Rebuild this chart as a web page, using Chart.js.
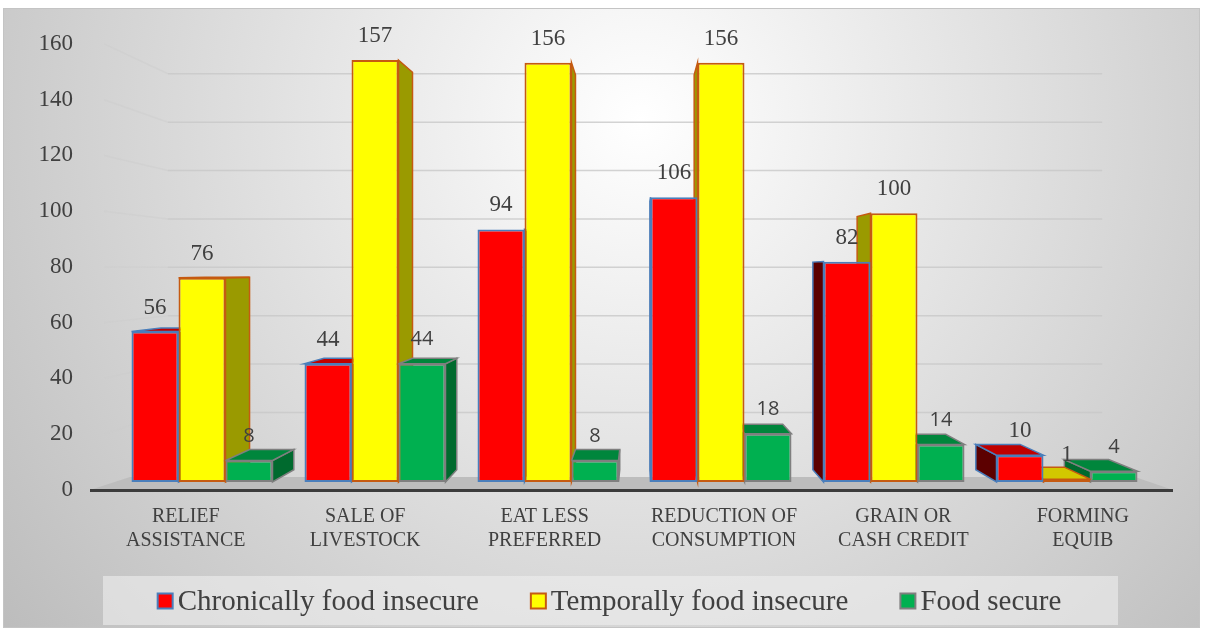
<html>
  <head>
    <script src="https://cdn.jsdelivr.net/npm/chart.js"></script>
    <meta charset="UTF-8" />
    <style>
      body { margin: 0; background: #fff; }
      #wrap { width: 1207px; height: 635px; }
    </style>
  </head>
  <body>
    <div id="wrap"><canvas id="myChart"></canvas></div>
    <script>
      const categories = [
        ["RELIEF", "ASSISTANCE"],
        ["SALE OF", "LIVESTOCK"],
        ["EAT LESS", "PREFERRED"],
        ["REDUCTION OF", "CONSUMPTION"],
        ["GRAIN OR", "CASH CREDIT"],
        ["FORMING", "EQUIB"],
      ];
      const seriesNames = [
        "Chronically food insecure",
        "Temporally food insecure",
        "Food secure",
      ];
      const chronic = [56, 44, 94, 106, 82, 10];
      const temporal = [76, 157, 156, 156, 100, 1];
      const secure = [8, 44, 8, 18, 14, 4];
      const yMax = 160;
      const yStep = 20;

      const serif = '"Liberation Serif", "Times New Roman", serif';
      const sans = '"Open Sans", "Liberation Sans", sans-serif';
      const textColor = "#404040";

      // front / top / side shades for the extruded bars
      const colors = [
        { front: "#ff0000", top: "#c00000", side: "#5c0000", border: "#4a7ebb" },
        { front: "#ffff00", top: "#d2c800", side: "#9a9a00", border: "#c55a11" },
        { front: "#00b050", top: "#00863c", side: "#006a2e", border: "#7f7f7f" },
      ];
      const labelFonts = [
        { family: serif, size: 23 },
        { family: serif, size: 23 },
        { family: sans, size: 20 },
      ];

      // fake perspective: everything recedes toward this point
      const vp = { x: 640, y: 270 };
      const barDepth = 0.058;
      const wallDepth = 0.1;
      const frontScale = 1.037; // axis labels sit on the front edge, a bit nearer than the bars
      const back = (x, y, f) => [x + f * (vp.x - x), y + f * (vp.y - y)];
      const toFront = (x, y) => [vp.x + (x - vp.x) * frontScale, vp.y + (y - vp.y) * frontScale];

      function poly(ctx, pts, fill, stroke) {
        ctx.beginPath();
        ctx.moveTo(pts[0][0], pts[0][1]);
        for (let i = 1; i < pts.length; i++) ctx.lineTo(pts[i][0], pts[i][1]);
        ctx.closePath();
        ctx.fillStyle = fill;
        ctx.fill();
        if (stroke) {
          ctx.strokeStyle = stroke;
          ctx.lineWidth = 1.5;
          ctx.stroke();
        }
      }

      const backdrop = {
        id: "backdrop",
        beforeDraw(chart) {
          const ctx = chart.ctx;
          ctx.save();
          ctx.fillStyle = "#fff";
          ctx.fillRect(0, 0, chart.width, chart.height);
          const g = ctx.createRadialGradient(640, 120, 0, 640, 120, 820);
          g.addColorStop(0, "#ffffff");
          g.addColorStop(1, "#bcbcbc");
          ctx.fillStyle = g;
          ctx.fillRect(3, 8, 1197, 620);
          ctx.strokeStyle = "#c4c4c4";
          ctx.lineWidth = 1;
          ctx.strokeRect(3.5, 8.5, 1196, 619);
          // legend panel
          ctx.fillStyle = "rgba(238,238,238,0.6)";
          ctx.fillRect(103, 576, 1015, 49);
          ctx.restore();
        },
      };

      const walls = {
        id: "walls",
        beforeDatasetsDraw(chart) {
          const ctx = chart.ctx;
          const area = chart.chartArea;
          const y = chart.scales.y;
          const x = chart.scales.x;
          ctx.save();

          // back wall + side wall grid
          ctx.lineWidth = 1.5;
          y.ticks.forEach(t => {
            if (t.value === 0) return;
            const py = y.getPixelForValue(t.value);
            const [fx, fy] = toFront(area.left, py);
            const [lx, ly] = back(area.left, py, wallDepth);
            const [rx, ry] = back(area.right, py, wallDepth);
            ctx.strokeStyle = "rgba(205,205,205,0.45)";
            ctx.beginPath();
            ctx.moveTo(fx + 8, fy);
            ctx.lineTo(lx, ly);
            ctx.stroke();
            ctx.strokeStyle = "rgba(200,200,200,0.8)";
            ctx.beginPath();
            ctx.moveTo(lx, ly);
            ctx.lineTo(rx, ry);
            ctx.stroke();
          });

          // value axis labels, projected onto the front edge
          ctx.fillStyle = textColor;
          ctx.font = `23px ${serif}`;
          ctx.textAlign = "right";
          ctx.textBaseline = "middle";
          y.ticks.forEach(t => {
            const [, ty] = toFront(area.left, y.getPixelForValue(t.value));
            ctx.fillText(String(t.value), 73, ty);
          });

          // category labels, same projection
          ctx.font = `20px ${serif}`;
          ctx.textAlign = "center";
          categories.forEach((lines, i) => {
            const [cx] = toFront(x.getPixelForValue(i), area.bottom);
            lines.forEach((line, j) => ctx.fillText(line, cx, 517 + j * 24));
          });

          // floor
          const fy = area.bottom + 8;
          poly(ctx, [[90, fy], [1173, fy], [1135, fy - 13], [130, fy - 13]], "#bdbdbd");
          ctx.fillStyle = "#3c3c3c";
          ctx.fillRect(90, fy - 1, 1083, 3);

          // side and top faces, farthest from the vanishing point first
          const bars = [];
          chart.data.datasets.forEach((ds, di) => {
            chart.getDatasetMeta(di).data.forEach(el => {
              bars.push({ el, c: colors[di] });
            });
          });
          bars.sort((a, b) => Math.abs(b.el.x - vp.x) - Math.abs(a.el.x - vp.x));
          bars.forEach(({ el, c }) => {
            const L = el.x - el.width / 2;
            const R = el.x + el.width / 2;
            const T = Math.min(el.y, el.base);
            const B = Math.max(el.y, el.base);
            if (R < vp.x) {
              poly(ctx, [[R, T], [R, B], back(R, B, barDepth), back(R, T, barDepth)], c.side, c.border);
            } else if (L > vp.x) {
              poly(ctx, [[L, T], [L, B], back(L, B, barDepth), back(L, T, barDepth)], c.side, c.border);
            }
            if (T > vp.y) {
              poly(ctx, [[L, T], [R, T], back(R, T, barDepth), back(L, T, barDepth)], c.top, c.border);
            }
          });
          ctx.restore();
        },
      };

      const valueLabels = {
        id: "valueLabels",
        afterDatasetsDraw(chart) {
          const ctx = chart.ctx;
          ctx.save();
          ctx.fillStyle = textColor;
          ctx.textAlign = "center";
          ctx.textBaseline = "middle";
          chart.data.datasets.forEach((ds, di) => {
            const f = labelFonts[di];
            ctx.font = `${f.size}px ${f.family}`;
            chart.getDatasetMeta(di).data.forEach((el, i) => {
              ctx.fillText(String(ds.data[i]), el.x, el.y - 24);
            });
          });
          ctx.restore();
        },
      };

      const legendRow = {
        id: "legendRow",
        afterDraw(chart) {
          const ctx = chart.ctx;
          ctx.save();
          ctx.font = `29px ${serif}`;
          ctx.textBaseline = "middle";
          const box = 15;
          const gap = 51;
          const widths = seriesNames.map(n => box + 6 + ctx.measureText(n).width);
          const total = widths.reduce((a, b) => a + b, 0) + gap * (widths.length - 1);
          let x = 610 - total / 2;
          const cy = 601;
          seriesNames.forEach((n, i) => {
            ctx.fillStyle = colors[i].front;
            ctx.fillRect(x, cy - box / 2, box, box);
            ctx.strokeStyle = colors[i].border;
            ctx.lineWidth = 2;
            ctx.strokeRect(x, cy - box / 2, box, box);
            ctx.fillStyle = textColor;
            ctx.fillText(n, x + box + 5, cy + 1);
            x += widths[i] + gap;
          });
          ctx.restore();
        },
      };

      const series = [chronic, temporal, secure];
      const datasets = series.map((values, i) => ({
        label: seriesNames[i],
        data: values,
        backgroundColor: colors[i].front,
        borderColor: colors[i].border,
        borderWidth: 2,
        borderSkipped: false,
        categoryPercentage: 0.815,
        barPercentage: 1,
      }));

      const config = {
        type: "bar",
        data: { labels: categories.map(c => c.join(" ")), datasets },
        options: {
          responsive: true,
          maintainAspectRatio: false,
          animation: false,
          layout: { padding: { left: 0, right: 53.5, top: 52, bottom: 153 } },
          plugins: {
            legend: { display: false },
            tooltip: { enabled: false },
          },
          scales: {
            x: { type: "category", display: false, offset: true },
            y: {
              min: 0,
              max: yMax,
              afterFit: axis => {
                axis.width = 115.5;
              },
              grid: { display: false, drawTicks: false },
              border: { display: false },
              ticks: { stepSize: yStep, display: false },
            },
          },
        },
        plugins: [backdrop, walls, valueLabels, legendRow],
      };

      new Chart(document.getElementById("myChart"), config);
    </script>
  </body>
</html>
